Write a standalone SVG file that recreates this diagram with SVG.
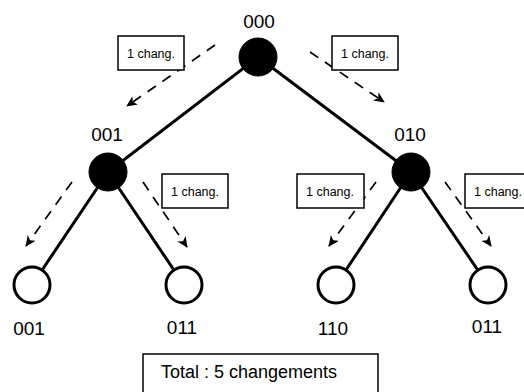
<svg xmlns="http://www.w3.org/2000/svg" width="524" height="392" viewBox="0 0 524 392">
<style>
.edge{stroke:#000;stroke-width:3;fill:none}
.dash{stroke:#000;stroke-width:1.7;fill:none;stroke-dasharray:10 8}
.full{fill:#000;stroke:#000;stroke-width:1}
.empty{fill:#fff;stroke:#000;stroke-width:3}
.lbl{font-family:"Liberation Sans",Arial,sans-serif;font-size:19px;fill:#000;text-anchor:middle}
.box{fill:#fff;stroke:#000;stroke-width:1.5}
.small{font-family:"Liberation Sans",Arial,sans-serif;font-size:12.5px;fill:#000;text-anchor:middle}
.total{font-family:"Liberation Sans",Arial,sans-serif;font-size:18px;fill:#000}
</style>
<defs>
<marker id="arr" markerWidth="12" markerHeight="10" refX="10" refY="5" orient="auto" markerUnits="userSpaceOnUse">
<path d="M0,0 L11,5 L0,10 L3,5 Z" fill="#000"/>
</marker>
</defs>
<g id="connectors">
<line class="edge" x1="258" y1="57" x2="108" y2="172"/>
<line class="edge" x1="258" y1="57" x2="411" y2="172"/>
<line class="edge" x1="108" y1="172" x2="32" y2="285"/>
<line class="edge" x1="108" y1="172" x2="184" y2="285"/>
<line class="edge" x1="411" y1="172" x2="336" y2="285"/>
<line class="edge" x1="411" y1="172" x2="488" y2="285"/>
<line class="dash" x1="215" y1="45" x2="127" y2="106" marker-end="url(#arr)"/>
<line class="dash" x1="310" y1="52" x2="384" y2="102" marker-end="url(#arr)"/>
<line class="dash" x1="72" y1="182" x2="26" y2="246" marker-end="url(#arr)"/>
<line class="dash" x1="143" y1="182" x2="187" y2="247" marker-end="url(#arr)"/>
<line class="dash" x1="376" y1="182" x2="329" y2="246" marker-end="url(#arr)"/>
<line class="dash" x1="445" y1="182" x2="491" y2="246" marker-end="url(#arr)"/>
</g>
<g id="n000"><circle class="full" cx="258" cy="57" r="19"/><text class="lbl" x="259" y="28">000</text></g>
<g id="n001"><circle class="full" cx="108" cy="172" r="19"/><text class="lbl" x="107" y="141">001</text></g>
<g id="n010"><circle class="full" cx="411" cy="172" r="19"/><text class="lbl" x="410" y="141">010</text></g>
<g id="leaf001"><circle class="empty" cx="32" cy="285" r="18"/><text class="lbl" x="29" y="335">001</text></g>
<g id="leaf011a"><circle class="empty" cx="184" cy="285" r="18"/><text class="lbl" x="182" y="334">011</text></g>
<g id="leaf110"><circle class="empty" cx="336" cy="285" r="18"/><text class="lbl" x="333" y="335">110</text></g>
<g id="leaf011b"><circle class="empty" cx="488" cy="285" r="18"/><text class="lbl" x="487" y="333">011</text></g>
<g id="b1"><rect class="box" x="118" y="36" width="66" height="34"/><text class="small" x="151" y="58">1 chang.</text></g>
<g id="b2"><rect class="box" x="332" y="36" width="66" height="34"/><text class="small" x="365" y="58">1 chang.</text></g>
<g id="b3"><rect class="box" x="162" y="174" width="66" height="34"/><text class="small" x="195" y="196">1 chang.</text></g>
<g id="b4"><rect class="box" x="297" y="174" width="67" height="34"/><text class="small" x="330" y="196">1 chang.</text></g>
<g id="b5"><rect class="box" x="465" y="174" width="66" height="34"/><text class="small" x="498" y="196">1 chang.</text></g>
<g id="total"><rect class="box" x="143" y="354" width="235" height="44"/><text class="total" x="161" y="378">Total : 5 changements</text></g>
</svg>
